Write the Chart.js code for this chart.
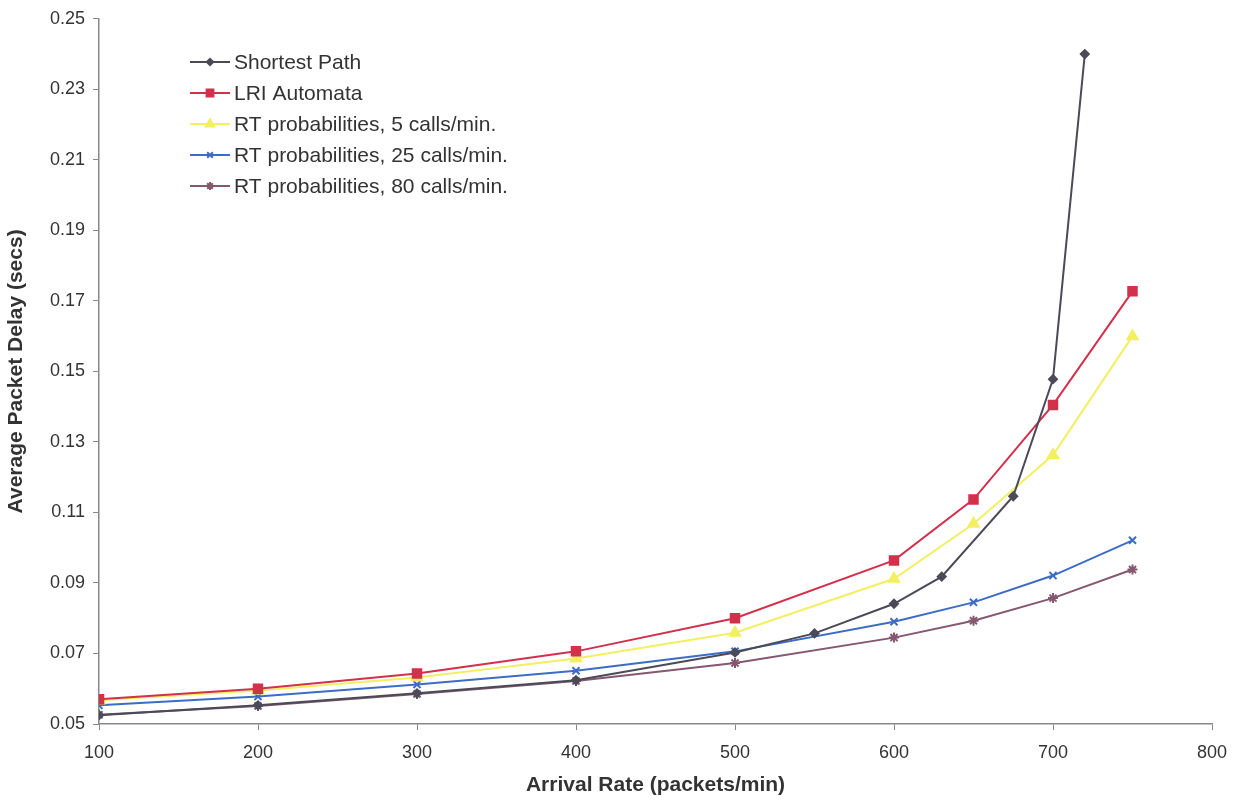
<!DOCTYPE html>
<html>
<head>
<meta charset="utf-8">
<script src="https://cdn.jsdelivr.net/npm/chart.js@4"></script>
<style>
  html, body { margin: 0; padding: 0; background: #fff; }
  #wrap { width: 1246px; height: 802px; }
</style>
</head>
<body>
<div id="wrap"><canvas id="delayChart" width="1246" height="802"></canvas></div>
<script>
// arrival rates (packets/min) for each series
const ratesShortest = [100, 200, 300, 400, 500, 550, 600, 630, 675, 700, 720];
const ratesOther = [100, 200, 300, 400, 500, 600, 650, 700, 750];

// average packet delay (secs)
const shortestPath = [0.0525, 0.0553, 0.0587, 0.0624, 0.0703, 0.0757, 0.0841, 0.0918, 0.1146, 0.1478, 0.2400];
const lriAutomata = [0.0570, 0.0600, 0.0643, 0.0706, 0.0800, 0.0964, 0.1137, 0.1405, 0.1727];
const rt5 = [0.0567, 0.0595, 0.0632, 0.0686, 0.0759, 0.0912, 0.1068, 0.1263, 0.1600];
const rt25 = [0.0553, 0.0578, 0.0612, 0.0651, 0.0706, 0.0790, 0.0845, 0.0921, 0.1021];
const rt80 = [0.0526, 0.0551, 0.0585, 0.0622, 0.0673, 0.0745, 0.0793, 0.0857, 0.0938];

const yTicks = [0.05, 0.07, 0.09, 0.11, 0.13, 0.15, 0.17, 0.19, 0.21, 0.23, 0.25];
const xTicks = [100, 200, 300, 400, 500, 600, 700, 800];

const FONT = '"Liberation Sans", Arial, sans-serif';

function pts(xs, ys) {
  return xs.map((x, i) => ({ x: x, y: ys[i] }));
}

const series = [
  { label: 'Shortest Path', data: pts(ratesShortest, shortestPath), color: '#4a4a58', style: 'rectRot', r: 4 },
  { label: 'LRI Automata', data: pts(ratesOther, lriAutomata), color: '#d3304c', style: 'rect', r: 6 },
  { label: 'RT probabilities, 5 calls/min.', data: pts(ratesOther, rt5), color: '#f3ef62', style: 'triangle', r: 6 },
  { label: 'RT probabilities, 25 calls/min.', data: pts(ratesOther, rt25), color: '#3d6cc6', style: 'crossRot', r: 5 },
  { label: 'RT probabilities, 80 calls/min.', data: pts(ratesOther, rt80), color: '#85586f', style: 'star', r: 5 }
];

// legend drawn inside the plot area, top left
const insideLegend = {
  id: 'insideLegend',
  afterDraw(chart) {
    const ctx = chart.ctx;
    ctx.save();
    ctx.font = '21px ' + FONT;
    ctx.textBaseline = 'middle';
    chart.data.datasets.forEach((ds, i) => {
      const y = 62 + i * 31;
      ctx.strokeStyle = ds.borderColor;
      ctx.fillStyle = ds.backgroundColor;
      ctx.lineWidth = 2;
      ctx.beginPath();
      ctx.moveTo(190, y);
      ctx.lineTo(230, y);
      ctx.stroke();
      Chart.helpers.drawPoint(ctx, {
        pointStyle: ds.pointStyle, radius: ds.pointRadius * 0.8, borderWidth: 2, rotation: 0
      }, 210, y);
      ctx.fillStyle = '#333';
      ctx.fillText(ds.label, 234, y + 1);
    });
    ctx.restore();
  }
};

new Chart(document.getElementById('delayChart').getContext('2d'), {
  type: 'line',
  data: {
    datasets: series.map(s => ({
      label: s.label,
      data: s.data,
      borderColor: s.color,
      backgroundColor: s.color,
      pointStyle: s.style,
      pointRadius: s.r,
      pointBorderWidth: 2,
      borderWidth: 2,
      tension: 0
    }))
  },
  options: {
    responsive: false,
    animation: false,
    layout: { padding: { top: 15, right: 34, left: 0, bottom: 0 } },
    plugins: {
      legend: { display: false },
      tooltip: { enabled: false }
    },
    scales: {
      x: {
        type: 'linear',
        min: 100,
        max: 800,
        afterBuildTicks: (s) => { s.ticks = xTicks.map(v => ({ value: v })); },
        afterFit: (s) => { s.height = 78; },
        grid: { drawOnChartArea: false, tickLength: 6, color: '#888' },
        border: { color: '#888', width: 1.5 },
        ticks: { color: '#333', font: { size: 18, family: FONT }, padding: 12 },
        title: {
          display: true,
          text: 'Arrival Rate (packets/min)',
          color: '#333',
          font: { size: 21, weight: 'bold', family: FONT },
          padding: { top: 2 }
        }
      },
      y: {
        min: 0.05,
        max: 0.25,
        afterBuildTicks: (s) => { s.ticks = yTicks.map(v => ({ value: v })); },
        afterFit: (s) => { s.width = 99; },
        grid: { drawOnChartArea: false, tickLength: 6, color: '#888' },
        border: { color: '#888', width: 1.5 },
        ticks: {
          color: '#333',
          font: { size: 18, family: FONT },
          padding: 8,
          callback: (v) => v.toFixed(2)
        },
        title: {
          display: true,
          text: 'Average Packet Delay (secs)',
          color: '#333',
          font: { size: 21, weight: 'bold', family: FONT },
          padding: { bottom: 2 }
        }
      }
    }
  },
  plugins: [insideLegend]
});
</script>
</body>
</html>
